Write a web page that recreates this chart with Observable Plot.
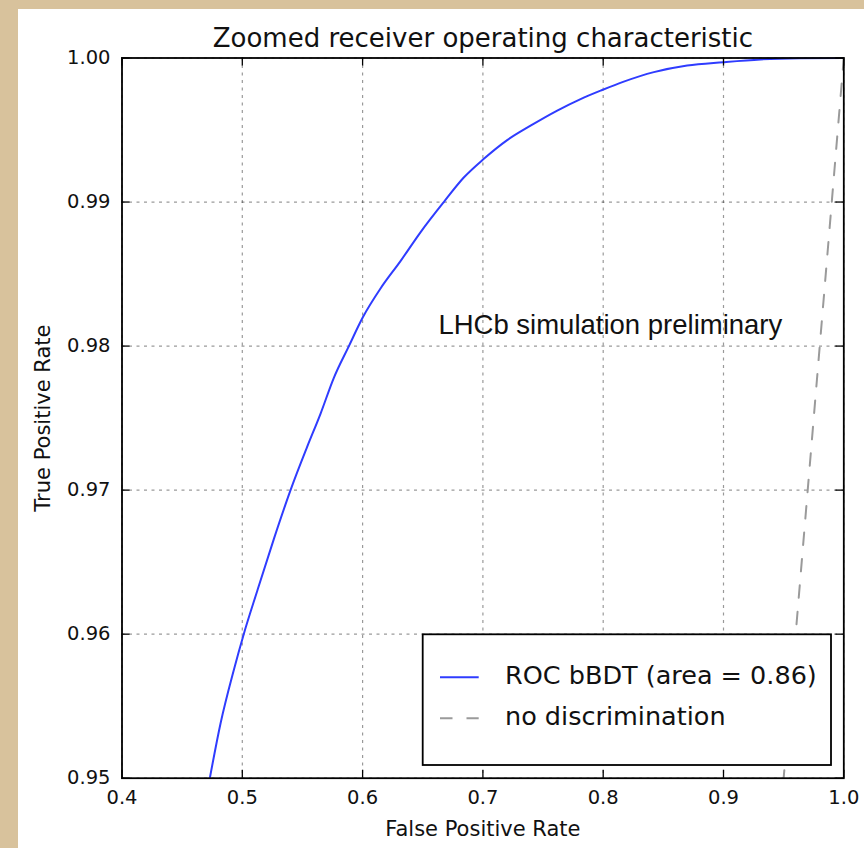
<!DOCTYPE html>
<html><head><meta charset="utf-8">
<script src="https://cdn.jsdelivr.net/npm/d3@7"></script>
<script src="https://cdn.jsdelivr.net/npm/@observablehq/plot@0.6"></script>
<style>
html,body{margin:0;padding:0;width:864px;height:848px;overflow:hidden;background:#d8c29c;}
#fig{position:absolute;left:18px;top:9px;width:846px;height:839px;background:#fff;}
</style></head><body><div id="fig"></div>
<script>
// ROC curve
const fpr = [0.473, 0.4819, 0.4929, 0.5012, 0.5124, 0.5262, 0.5401, 0.5539, 0.5650, 0.5761,
             0.5886, 0.6002, 0.6149, 0.6315, 0.6481, 0.6675, 0.6841, 0.7008, 0.7202, 0.7396,
             0.7618, 0.7812, 0.7992, 0.8171, 0.8421, 0.8698, 0.8998, 0.9308, 0.964, 1.0];
const tpr = [0.95, 0.9538, 0.9575, 0.96, 0.9630, 0.9666, 0.97, 0.9730, 0.9753, 0.9778,
             0.98, 0.9820, 0.9840, 0.9859, 0.9879, 0.99, 0.9917, 0.9930, 0.9943, 0.9953,
             0.99635, 0.99715, 0.99778, 0.99836, 0.99902, 0.99948, 0.99971, 0.9999, 0.99998, 1.0];
// no-discrimination diagonal
const diagonal = [0, 1];

const xTicks = [0.4, 0.5, 0.6, 0.7, 0.8, 0.9, 1.0];
const xTickLabels = ["0.4", "0.5", "0.6", "0.7", "0.8", "0.9", "1.0"];
const yTicks = [0.95, 0.96, 0.97, 0.98, 0.99, 1.00];
const yTickLabels = ["0.95", "0.96", "0.97", "0.98", "0.99", "1.00"];

const title = "Zoomed receiver operating characteristic";
const xLabel = "False Positive Rate";
const yLabel = "True Positive Rate";
const annotation = "LHCb simulation preliminary";
const annotationAt = [{x: 0.663, y: 0.9808}];
const legendLabels = ["ROC bBDT (area = 0.86)", "no discrimination"];

const W = 846, H = 839;
const mL = 103.5, mR = 20.7, mT = 48.5, mB = 70.3;
const pw = W - mL - mR, ph = H - mT - mB;
const roc = fpr.map((x, i) => ({x, y: tpr[i]}));
const xFmt = new Map(xTicks.map((t, i) => [t, xTickLabels[i]]));
const yFmt = new Map(yTicks.map((t, i) => [t, yTickLabels[i]]));

const blue = "#2f3cff", gray = "#9a9a9a";
const gridStyle = {stroke: "#000", strokeOpacity: 0.4, strokeWidth: 1.2, strokeDasharray: "3,4.5"};
const tickStyle = {stroke: "#000", strokeWidth: 1.3};

const plot = Plot.plot({
  width: W, height: H,
  marginLeft: mL, marginRight: mR, marginTop: mT, marginBottom: mB,
  x: {domain: [0.4, 1.0]},
  y: {domain: [0.95, 1.0]},
  style: {fontFamily: "'DejaVu Sans', sans-serif", fontSize: "19.5px", color: "#111", background: "transparent"},
  marks: [
    Plot.gridX(xTicks, gridStyle),
    Plot.gridY(yTicks, gridStyle),
    Plot.line(diagonal, {x: d => d, y: d => d, stroke: gray, strokeWidth: 2, strokeDasharray: "12.5,14", clip: true}),
    Plot.line(roc, {x: "x", y: "y", stroke: blue, strokeWidth: 2, curve: "monotone-x", clip: true}),
    Plot.tickX(xTicks, {x: d => d, insetTop: ph - 8, ...tickStyle}),
    Plot.tickX(xTicks, {x: d => d, insetBottom: ph - 8, ...tickStyle}),
    Plot.tickY(yTicks, {y: d => d, insetRight: pw - 8, ...tickStyle}),
    Plot.tickY(yTicks, {y: d => d, insetLeft: pw - 8, ...tickStyle}),
    Plot.frame({stroke: "#000", strokeWidth: 1.8}),
    Plot.axisX({ticks: xTicks, tickFormat: d => xFmt.get(d), tickSize: 0, tickPadding: 11.8, label: null}),
    Plot.axisY({ticks: yTicks, tickFormat: d => yFmt.get(d), tickSize: 0, tickPadding: 11.5, label: null}),
    Plot.text([title], {text: d => d, frameAnchor: "top", lineAnchor: "middle", textAnchor: "middle",
      dy: -19, fontSize: 26, fill: "#111"}),
    Plot.text([xLabel], {text: d => d, frameAnchor: "bottom", lineAnchor: "middle", textAnchor: "middle",
      dy: 50.6, fontSize: 21, fill: "#111"}),
    Plot.text([yLabel], {text: d => d, frameAnchor: "left", lineAnchor: "middle", textAnchor: "middle",
      dx: -79.2, rotate: -90, fontSize: 21, fill: "#111"}),
    Plot.text(annotationAt, {x: "x", y: "y", text: () => annotation, textAnchor: "start", lineAnchor: "middle",
      fontFamily: "'Liberation Sans', Arial, sans-serif", fontSize: 27.5, dy: -9.5, fill: "#111"})
  ]
});
document.getElementById("fig").appendChild(plot);

// legend (lower right, white box over the plot)
const bw = 408.3, bh = 130.7;
const bx = mL + pw - 12.3 - bw, by = mT + ph - 12.7 - bh;
const g = d3.select(plot).append("g")
  .attr("font-family", "'DejaVu Sans', sans-serif").attr("font-size", 25.5).attr("text-anchor", "start");
g.append("rect").attr("x", bx).attr("y", by).attr("width", bw).attr("height", bh)
  .attr("fill", "#fff").attr("stroke", "#000").attr("stroke-width", 1.8);
const rows = [
  {label: legendLabels[0], stroke: blue, dash: null, dy: 43},
  {label: legendLabels[1], stroke: gray, dash: "12.5,14", dy: 84}
];
rows.forEach(r => {
  g.append("line").attr("x1", bx + 17.3).attr("x2", bx + 56).attr("y1", by + r.dy).attr("y2", by + r.dy)
    .attr("stroke", r.stroke).attr("stroke-width", 2).attr("stroke-dasharray", r.dash);
  g.append("text").attr("x", bx + 82.3).attr("y", by + r.dy + 6.9).attr("fill", "#111")
    .attr("text-anchor", "start").text(r.label);
});
</script></body></html>
